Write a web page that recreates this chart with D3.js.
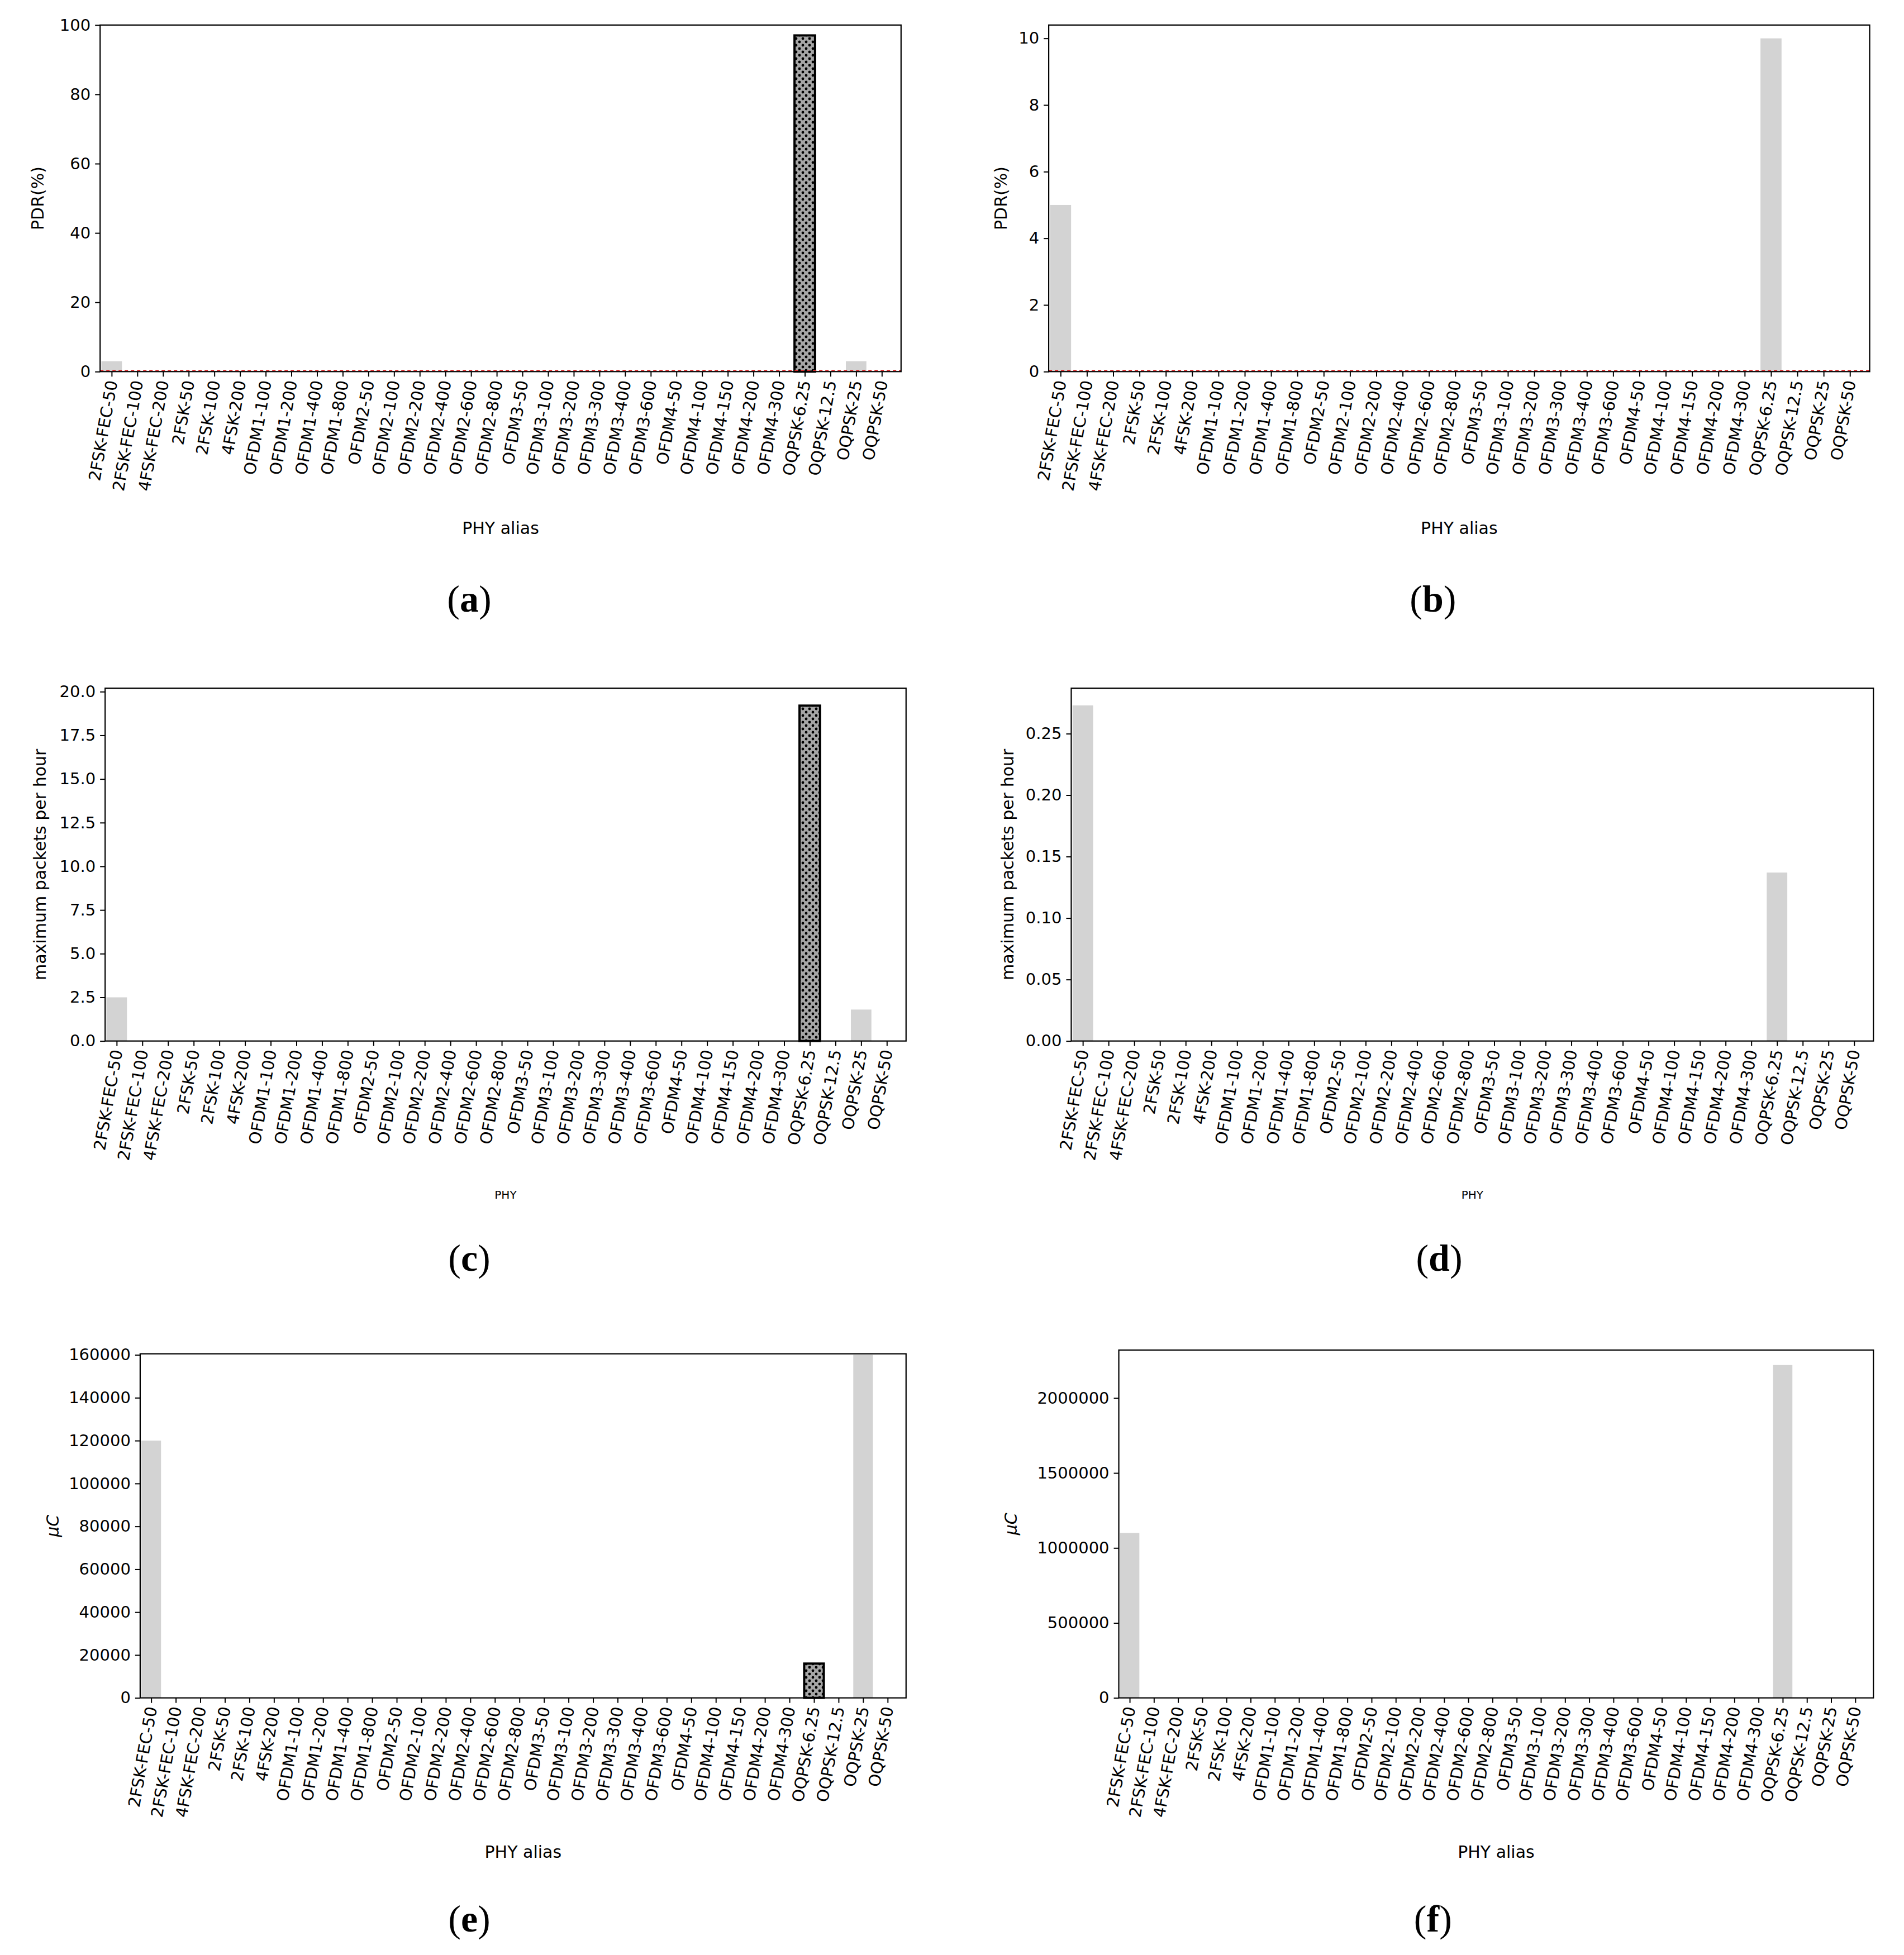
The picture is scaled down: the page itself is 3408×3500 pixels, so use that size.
<!DOCTYPE html>
<html><head><meta charset="utf-8">
<script src="https://cdn.jsdelivr.net/npm/d3@7"></script>
<style>body{margin:0;background:#fff}</style>
</head><body>
<svg id="fig" width="3408" height="3500"></svg>
<script>
const categories = ["2FSK-FEC-50","2FSK-FEC-100","4FSK-FEC-200","2FSK-50","2FSK-100","4FSK-200",
  "OFDM1-100","OFDM1-200","OFDM1-400","OFDM1-800",
  "OFDM2-50","OFDM2-100","OFDM2-200","OFDM2-400","OFDM2-600","OFDM2-800",
  "OFDM3-50","OFDM3-100","OFDM3-200","OFDM3-300","OFDM3-400","OFDM3-600",
  "OFDM4-50","OFDM4-100","OFDM4-150","OFDM4-200","OFDM4-300",
  "OQPSK-6.25","OQPSK-12.5","OQPSK-25","OQPSK-50"];

// non-zero values per panel (others are 0)
const pdrA = {"2FSK-FEC-50": 3, "OQPSK-6.25": 97, "OQPSK-25": 3};
const pdrB = {"2FSK-FEC-50": 5, "OQPSK-6.25": 10};
const pktC = {"2FSK-FEC-50": 2.5, "OQPSK-6.25": 19.2, "OQPSK-25": 1.8};
const pktD = {"2FSK-FEC-50": 0.273, "OQPSK-6.25": 0.137};
const ucE = {"2FSK-FEC-50": 120000, "OQPSK-6.25": 16000, "OQPSK-25": 160000};
const ucF = {"2FSK-FEC-50": 1100000, "OQPSK-6.25": 2220000};

const S = 2.24;
const svg = d3.select("#fig");
const defs = svg.append("defs");
const pat = defs.append("pattern").attr("id","dots").attr("patternUnits","userSpaceOnUse")
  .attr("width",12).attr("height",12);
pat.append("rect").attr("width",12).attr("height",12).attr("fill","#a6a6a6");
pat.append("circle").attr("cx",3).attr("cy",3).attr("r",2.4).attr("fill","#000");
pat.append("circle").attr("cx",9).attr("cy",9).attr("r",2.4).attr("fill","#000");

const panels = [
  {data: pdrA, box:[80,20,720,297], max:100, ticks:d3.range(0,101,20), fmt:d3.format("d"), ylab:"PDR(%)", ylx:30, xlab:"PHY alias", xly:422, xfs:30, hatch:"OQPSK-6.25", red:true, letter:"a", lx:375, ly:478},
  {data: pdrB, box:[838,20,1494,297], max:10.4, ticks:d3.range(0,11,2), fmt:d3.format("d"), ylab:"PDR(%)", ylx:800, xlab:"PHY alias", xly:422, xfs:30, hatch:null, red:true, letter:"b", lx:1145, ly:478},
  {data: pktC, box:[84,550,724,832], max:20.2, ticks:d3.range(0,20.1,2.5), fmt:d3.format(".1f"), ylab:"maximum packets per hour", ylx:32, xlab:"PHY", xly:955, xfs:20, hatch:"OQPSK-6.25", red:false, letter:"c", lx:375, ly:1005},
  {data: pktD, box:[856,550,1497,832], max:0.287, ticks:d3.range(0,0.26,0.05), fmt:d3.format(".2f"), ylab:"maximum packets per hour", ylx:805, xlab:"PHY", xly:955, xfs:20, hatch:null, red:false, letter:"d", lx:1150, ly:1005},
  {data: ucE, box:[112,1082,724,1357], max:160500, ticks:d3.range(0,160001,20000), fmt:d3.format("d"), ylab:"μC", ylx:42, xlab:"PHY alias", xly:1480, xfs:30, hatch:"OQPSK-6.25", red:false, letter:"e", lx:375, ly:1533},
  {data: ucF, box:[894,1079,1497,1357], max:2320000, ticks:d3.range(0,2000001,500000), fmt:d3.format("d"), ylab:"μC", ylx:808, xlab:"PHY alias", xly:1480, xfs:30, hatch:null, red:false, letter:"f", lx:1145, ly:1533}
];

const font = "DejaVu Sans, sans-serif";
panels.forEach(p => {
  const [x0,y0,x1,y1] = p.box.map(v => v*S);
  const x = d3.scaleLinear().domain([-0.45, categories.length - 0.25]).range([x0,x1]);
  const y = d3.scaleLinear().domain([0,p.max]).range([y1,y0]);
  const g = svg.append("g");
  const vals = categories.map(c => ({c, v: p.data[c] || 0}));
  g.selectAll("rect.bar").data(vals.filter(d => d.v > 0)).join("rect")
    .attr("x", (d) => x(categories.indexOf(d.c) - 0.4))
    .attr("width", x(0.8) - x(0))
    .attr("y", d => y(d.v)).attr("height", d => y(0) - y(d.v))
    .attr("fill", d => d.c === p.hatch ? "url(#dots)" : "#d3d3d3")
    .attr("stroke", d => d.c === p.hatch ? "#000" : "none")
    .attr("stroke-width", 4);
  if (p.red) g.append("line").attr("x1",x0).attr("x2",x1).attr("y1",y(0)-2).attr("y2",y(0)-2)
    .attr("stroke","#d62728").attr("stroke-width",2).attr("stroke-dasharray","6,5");
  g.append("rect").attr("x",x0).attr("y",y0).attr("width",x1-x0).attr("height",y1-y0)
    .attr("fill","none").attr("stroke","#000").attr("stroke-width",2.2);
  const ya = g.append("g").attr("transform",`translate(${x0},0)`)
    .call(d3.axisLeft(y).tickValues(p.ticks).tickFormat(p.fmt).tickSize(9).tickPadding(8));
  ya.select(".domain").remove();
  ya.selectAll("line").attr("stroke-width",2);
  ya.selectAll("text").attr("font-family",font).attr("font-size",29);
  const xa = g.append("g").attr("transform",`translate(0,${y1})`)
    .call(d3.axisBottom(x).tickValues(d3.range(categories.length)).tickFormat(i => categories[i]).tickSize(9));
  xa.select(".domain").remove();
  xa.selectAll("line").attr("stroke-width",2);
  xa.selectAll("text").attr("font-family",font).attr("font-size",29)
    .attr("text-anchor","end").attr("dy","0.35em")
    .attr("transform","translate(0,16) rotate(-80)").attr("x",0).attr("y",0);
  g.append("text").attr("x",p.ylx*S).attr("y",(y0+y1)/2).attr("text-anchor","middle")
    .attr("transform",`rotate(-90,${p.ylx*S},${(y0+y1)/2})`).attr("dy","0.35em")
    .attr("font-family",font).attr("font-size",30)
    .text(p.ylab).style("font-style", p.ylab === "μC" ? "italic" : "normal");
  g.append("text").attr("x",(x0+x1)/2).attr("y",p.xly*S).attr("text-anchor","middle")
    .attr("dy","0.35em").attr("font-family",font).attr("font-size",p.xfs).text(p.xlab);
  const lt = g.append("text").attr("x",p.lx*S).attr("y",p.ly*S).attr("text-anchor","middle")
    .attr("dy","0.35em").attr("font-family","Liberation Serif, serif").attr("font-size",68);
  lt.append("tspan").text("(");
  lt.append("tspan").attr("font-weight","bold").text(p.letter);
  lt.append("tspan").text(")");
});
</script>
</body></html>
